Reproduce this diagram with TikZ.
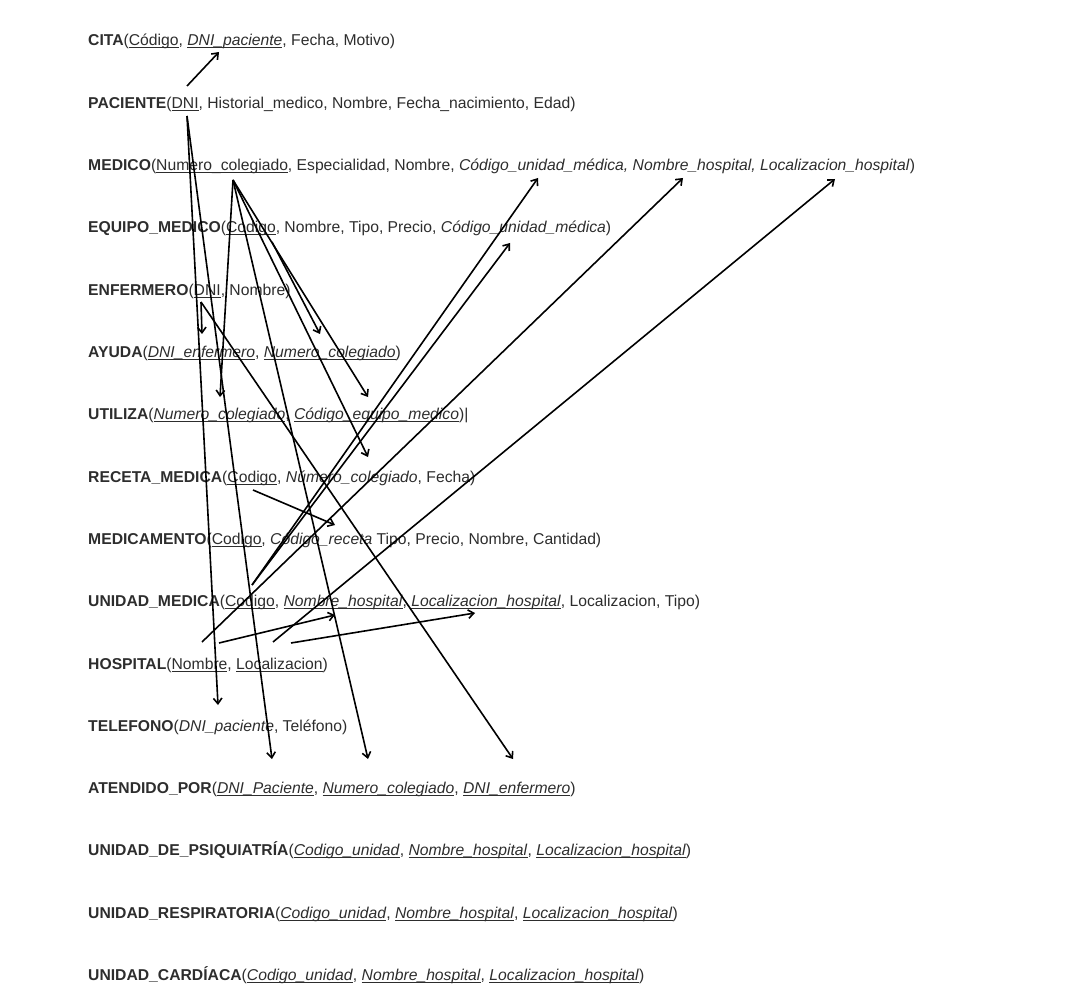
\documentclass[tikz,border=0pt]{standalone}
\usepackage{fontspec}
\setmainfont{Liberation Sans}
\usetikzlibrary{arrows.meta}
\definecolor{txt}{RGB}{45,45,45}
\newcommand\kund[1]{\setbox0\hbox{#1}\rlap{\rule[-2.2pt]{\wd0}{0.7pt}}\box0}
\begin{document}
\begin{tikzpicture}[x=1pt,y=-1pt,
  rel/.style={anchor=base west, inner sep=0pt, font=\fontsize{15.7}{18}\selectfont, text=txt},
  fk/.style={-{Straight Barb[length=5.5pt,width=8.5pt]}, line width=1.6pt, black}]
\useasboundingbox (0,0) rectangle (1080,1003);
\node[rel] (cita) at (88,46) {\textbf{CITA}(\kund{Código}, \kund{\textit{DNI\_paciente}}, Fecha, Motivo)};
\node[rel] (paciente) at (88,108.3) {\textbf{PACIENTE}(\kund{DNI}, Historial\_medico, Nombre, Fecha\_nacimiento, Edad)};
\node[rel] (medico) at (88,170.6) {\textbf{MEDICO}(\kund{Numero\_colegiado}, Especialidad, Nombre, \textit{Código\_unidad\_médica, Nombre\_hospital, Localizacion\_hospital})};
\node[rel] (equipo) at (88,232.9) {\textbf{EQUIPO\_MEDICO}(\kund{Codigo}, Nombre, Tipo, Precio, \textit{Código\_unidad\_médica})};
\node[rel] (enfermero) at (88,295.2) {\textbf{ENFERMERO}(\kund{DNI}, Nombre)};
\node[rel] (ayuda) at (88,357.5) {\textbf{AYUDA}(\kund{\textit{DNI\_enfermero}}, \kund{\textit{Numero\_colegiado}})};
\node[rel] (utiliza) at (88,419.8) {\textbf{UTILIZA}(\kund{\textit{Numero\_colegiado}}, \kund{\textit{Código\_equipo\_medico}})|};
\node[rel] (receta) at (88,482.1) {\textbf{RECETA\_MEDICA}(\kund{Codigo}, \textit{Número\_colegiado}, Fecha)};
\node[rel] (medicamento) at (88,544.4) {\textbf{MEDICAMENTO}(\kund{Codigo}, \textit{Código\_receta} Tipo, Precio, Nombre, Cantidad)};
\node[rel] (unidad) at (88,606.7) {\textbf{UNIDAD\_MEDICA}(\kund{Codigo}, \kund{\textit{Nombre\_hospital}}, \kund{\textit{Localizacion\_hospital}}, Localizacion, Tipo)};
\node[rel] (hospital) at (88,669) {\textbf{HOSPITAL}(\kund{Nombre}, \kund{Localizacion})};
\node[rel] (telefono) at (88,731.3) {\textbf{TELEFONO}(\textit{DNI\_paciente}, Teléfono)};
\node[rel] (atendido) at (88,793.6) {\textbf{ATENDIDO\_POR}(\kund{\textit{DNI\_Paciente}}, \kund{\textit{Numero\_colegiado}}, \kund{\textit{DNI\_enfermero}})};
\node[rel] (psiq) at (88,855.9) {\textbf{UNIDAD\_DE\_PSIQUIATRÍA}(\kund{\textit{Codigo\_unidad}}, \kund{\textit{Nombre\_hospital}}, \kund{\textit{Localizacion\_hospital}})};
\node[rel] (resp) at (88,918.2) {\textbf{UNIDAD\_RESPIRATORIA}(\kund{\textit{Codigo\_unidad}}, \kund{\textit{Nombre\_hospital}}, \kund{\textit{Localizacion\_hospital}})};
\node[rel] (card) at (88,980.5) {\textbf{UNIDAD\_CARDÍACA}(\kund{\textit{Codigo\_unidad}}, \kund{\textit{Nombre\_hospital}}, \kund{\textit{Localizacion\_hospital}})};
% arrow anchor points
\coordinate (pacA) at (187,86);
\coordinate (citaDNI) at (219,52);
\coordinate (pacDNI) at (187,116);
\coordinate (telDNI) at (218,705);
\coordinate (attDNIp) at (272,759);
\coordinate (medNum) at (233,180);
\coordinate (utiNum) at (220,397);
\coordinate (utiEq) at (368,397);
\coordinate (recNum) at (368,457);
\coordinate (attNum) at (368,759);
\coordinate (eqCod) at (272,242);
\coordinate (ayuNum) at (320,334);
\coordinate (enfDNI) at (201,302);
\coordinate (ayuDNI) at (202,334);
\coordinate (attDNIe) at (513,759);
\coordinate (recCod) at (253,490);
\coordinate (medRec) at (335,525);
\coordinate (umCod) at (252,585);
\coordinate (medUM) at (538,178);
\coordinate (eqUM) at (510,243);
\coordinate (hosA) at (202,642);
\coordinate (medNH) at (683,178);
\coordinate (hosB) at (219,643);
\coordinate (umNH) at (335,615);
\coordinate (hosC) at (273,642);
\coordinate (medLH) at (835,179);
\coordinate (hosD) at (291,643);
\coordinate (umLH) at (475,613);
% connectors
\draw[fk] (pacA) -- (citaDNI);
\draw[fk] (pacDNI) -- (telDNI);
\draw[fk] (pacDNI) -- (attDNIp);
\draw[fk] (medNum) -- (utiNum);
\draw[fk] (medNum) -- (utiEq);
\draw[fk] (medNum) -- (recNum);
\draw[fk] (medNum) -- (attNum);
\draw[fk] (eqCod) -- (ayuNum);
\draw[fk] (enfDNI) -- (ayuDNI);
\draw[fk] (enfDNI) -- (attDNIe);
\draw[fk] (recCod) -- (medRec);
\draw[fk] (umCod) -- (medUM);
\draw[fk] (umCod) -- (eqUM);
\draw[fk] (hosA) -- (medNH);
\draw[fk] (hosB) -- (umNH);
\draw[fk] (hosC) -- (medLH);
\draw[fk] (hosD) -- (umLH);
\end{tikzpicture}
\end{document}
